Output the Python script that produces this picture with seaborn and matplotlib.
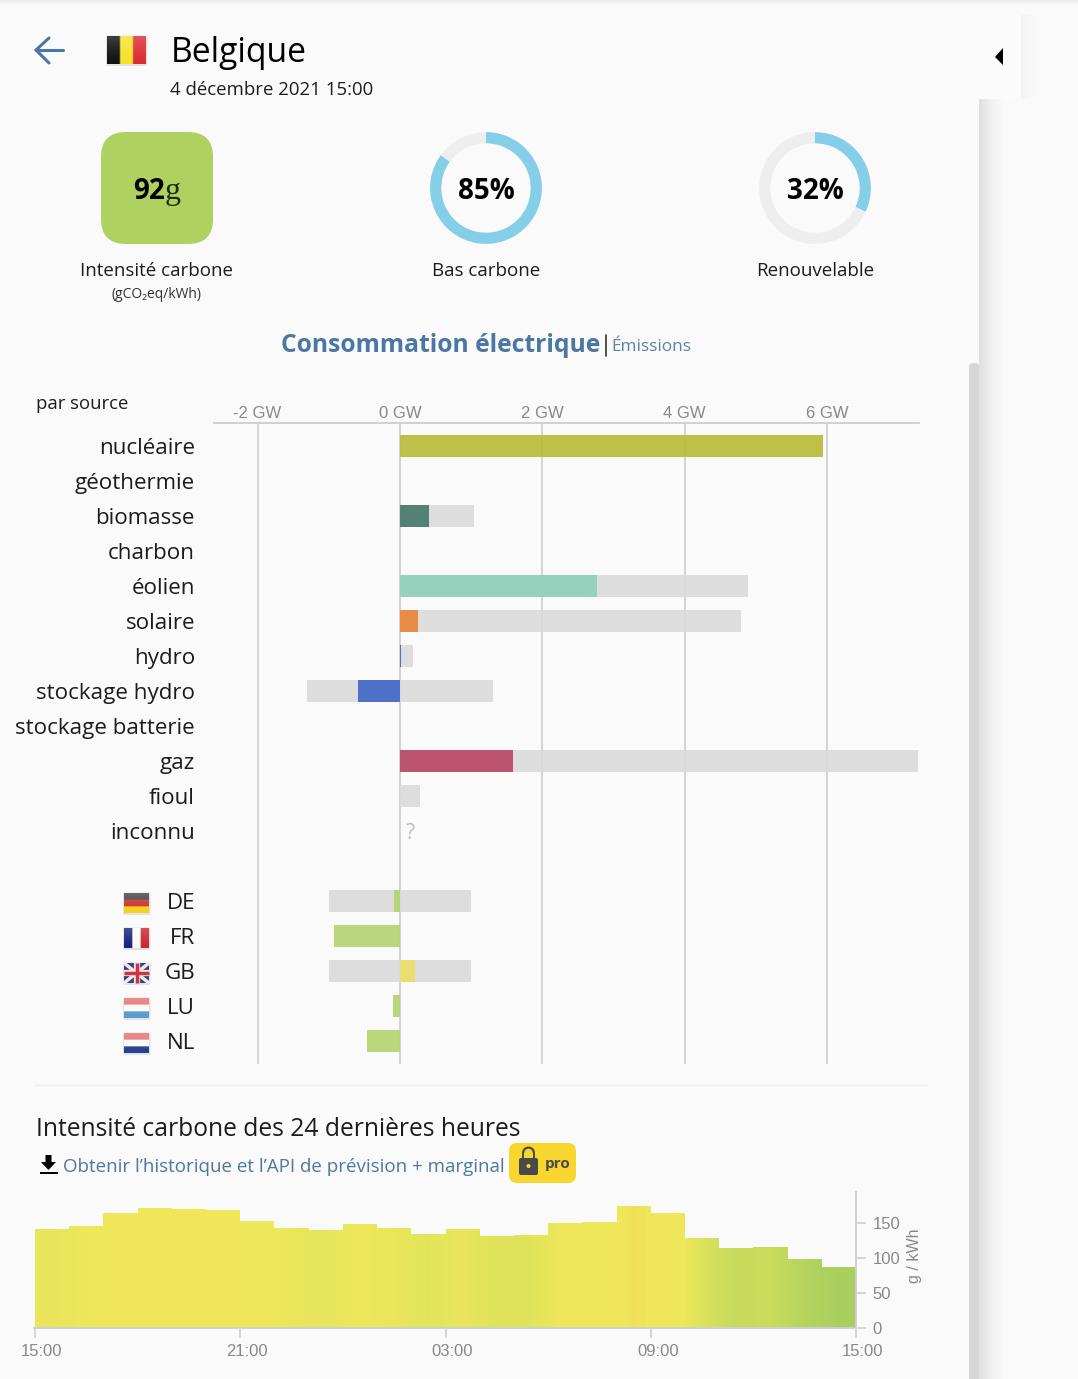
import numpy as np
import pandas as pd
import matplotlib
matplotlib.use("Agg")
import matplotlib.pyplot as plt
import seaborn as sns
from matplotlib.patches import FancyBboxPatch, Rectangle, Polygon, PathPatch, Circle, Wedge
from matplotlib.path import Path
from matplotlib.colors import LinearSegmentedColormap, Normalize, to_rgb

# ---------- data ----------
rows = ["nucléaire", "géothermie", "biomasse", "charbon", "éolien", "solaire", "hydro",
        "stockage hydro", "stockage batterie", "gaz", "fioul", "inconnu", " ",
        "DE", "FR", "GB", "LU", "NL"]
production = [5.94, 0, 0.41, 0, 2.77, 0.25, 0.02, -0.59, 0, 1.59, 0, 0, 0,
              -0.09, -0.93, 0.21, -0.10, -0.46]
capacity_pos = [0, 0, 1.04, 0, 4.89, 4.79, 0.18, 1.31, 0, 7.28, 0.28, 0, 0,
                1.0, 0, 1.0, 0, 0]
capacity_neg = [0, 0, 0, 0, 0, 0, 0, -1.31, 0, 0, 0, 0, 0,
                -1.0, 0, -1.0, 0, 0]
row_colors = ["#B8BD3A", "#FAFAFA", "#477A6B", "#FAFAFA", "#8FD1BB", "#E8853A", "#4269B2",
              "#4269C9", "#FAFAFA", "#B94868", "#FAFAFA", "#FAFAFA", "#FAFAFA",
              "#B5D471", "#B5D471", "#EDDE66", "#B5D471", "#B5D471"]
gw_ticks = [-2, 0, 2, 4, 6]
gw_labels = ["-2 GW", "0 GW", "2 GW", "4 GW", "6 GW"]

hours = ["15:00", "16:00", "17:00", "18:00", "19:00", "20:00", "21:00", "22:00",
         "23:00", "00:00", "01:00", "02:00", "03:00", "04:00", "05:00", "06:00",
         "07:00", "08:00", "09:00", "10:00", "11:00", "12:00", "13:00", "14:00"]
intensity = [141, 146, 165, 171, 170, 169, 153, 143, 140, 148, 143, 134,
             142, 131, 133, 150, 151, 175, 164, 129, 114, 116, 99, 87]
hour_ticks = [-0.5, 5.5, 11.5, 17.5, 23.5]
hour_labels = ["15:00", "21:00", "03:00", "09:00", "15:00"]
intensity_ticks = [0, 50, 100, 150]

low_carbon = [85, 15]
renewable = [32, 68]

# ---------- setup ----------
W, H = 1078, 1379
sns.set_theme(style="white")
plt.rcParams["font.family"] = ["Open Sans", "DejaVu Sans"]
BG = "#FAFAFA"
fig = plt.figure(figsize=(W / 100, H / 100), dpi=100, facecolor=BG)


def px_axes(x0, y0, x1, y1, **kw):
    return fig.add_axes([x0 / W, 1 - y1 / H, (x1 - x0) / W, (y1 - y0) / H], **kw)


bg = px_axes(0, 0, W, H, zorder=0)
bg.set_facecolor(BG)
bg.axis("off")

# window chrome
shade = LinearSegmentedColormap.from_list("s", ["#E0E0E0", "#F0F0F0", BG])
bg.imshow(np.linspace(0, 1, 40).reshape(1, -1), extent=(979, 1003, H, 99), cmap=shade, aspect="auto")
bg.imshow(np.linspace(0, 1, 8).reshape(-1, 1), extent=(0, W, 5, 0), cmap=LinearSegmentedColormap.from_list("t", ["#EBEBEB", BG]), aspect="auto", origin="upper")
bg.imshow(np.linspace(0, 1, 30).reshape(1, -1), extent=(1021, 1036, 99, 15), cmap=LinearSegmentedColormap.from_list("u", ["#F3F3F3", BG]), aspect="auto")
bg.add_patch(FancyBboxPatch((979, 15), 42, 84, boxstyle="round,pad=0,rounding_size=5", fc="#FBFBFB", ec="none"))
bg.add_patch(Rectangle((978, 15), 6, 84, fc="#FBFBFB", ec="none"))
bg.add_patch(Polygon([(1003, 48), (1003, 65), (995, 57)], fc="black", ec="none"))
bg.add_patch(FancyBboxPatch((969, 363), 10, 1030, boxstyle="round,pad=0,rounding_size=4", fc="#D6D6D6", ec="none"))

BLUE = "#4C77A5"
# back arrow
bg.plot([36, 63], [50, 50], color=BLUE, lw=2.2, solid_capstyle="round")
bg.plot([49, 36, 49], [38, 50, 63], color=BLUE, lw=2.2, solid_capstyle="round", solid_joinstyle="miter")


def flag_img(x0, y0, w, h, colors, vertical=False):
    """Striped flag with the soft edges and top sheen of the original raster icon."""
    bg.add_patch(FancyBboxPatch((x0 - 1, y0 - 0.5), w + 2.5, h + 2.5, boxstyle="round,pad=0,rounding_size=2", fc="#00000018", ec="none"))
    n = 12
    arr = np.zeros((n * 2, n * 2, 3))
    for i, c in enumerate(colors):
        a, b = i * 2 * n // len(colors), (i + 1) * 2 * n // len(colors)
        if vertical:
            arr[:, a:b] = to_rgb(c)
        else:
            arr[a:b, :] = to_rgb(c)
    sheen = np.linspace(0.28, 0.0, n * 2)[:, None, None] ** 1.3
    arr = arr + (1 - arr) * sheen
    bg.imshow(arr, extent=(x0, x0 + w, y0 + h, y0), aspect="auto", interpolation="bilinear", zorder=2)


flag_img(107, 36, 39, 28, ["#111111", "#F7E22B", "#DB2C33"], vertical=True)
flag_img(124, 893, 25, 20, ["#444444", "#C9342F", "#F6D21D"])
flag_img(124, 928, 25, 20, ["#1A237E", "#FAFAFA", "#C9282F"], vertical=True)
flag_img(124, 998, 25, 20, ["#E57373", "#FAFAFA", "#5A9BCB"])
flag_img(124, 1033, 25, 20, ["#E57373", "#FAFAFA", "#25408F"])
# union flag
bg.add_patch(FancyBboxPatch((123, 962.5), 27.5, 22.5, boxstyle="round,pad=0,rounding_size=2", fc="#00000018", ec="none"))
bg.add_patch(Rectangle((124, 963), 25, 20, fc="#3A3F80", ec="none", zorder=3))
for xs, ys, c, w_ in [([124, 149], [963, 983], "#F2E6EA", 2.5), ([124, 149], [983, 963], "#F2E6EA", 2.5),
                      ([124, 149], [973, 973], "#F2E6EA", 4.5), ([136.5, 136.5], [963, 983], "#F2E6EA", 4.5),
                      ([124, 149], [973, 973], "#D0333F", 2.5), ([136.5, 136.5], [963, 983], "#D0333F", 2.5)]:
    bg.plot(xs, ys, color=c, lw=w_, solid_capstyle="butt", zorder=3)
bg.set_xlim(0, W)
bg.set_ylim(H, 0)

INK = "#1C1C1C"
bg.text(171, 53, "Belgique", fontsize=24.3, color="black", va="center")
bg.text(170, 90, "4 décembre 2021 15:00", fontsize=13.4, color=INK, va="center")

# carbon square
bg.add_patch(FancyBboxPatch((101, 132), 112, 112, boxstyle="round,pad=0,rounding_size=25", fc="#AED15F", ec="none"))
bg.text(164.5, 199, "92", fontsize=20, fontweight="bold", color="black", ha="right", va="baseline")
bg.text(165, 199, "g", fontsize=23, family="Liberation Serif", color="#1C2A10", ha="left", va="baseline")
bg.text(157, 271, "Intensité carbone", fontsize=13.5, color=INK, ha="center", va="center")
bg.text(157, 295, "(gCO₂eq/kWh)", fontsize=10, color="#333333", ha="center", va="center")

# donuts
for cx, vals, lab, name in [(486, low_carbon, "85%", "Bas carbone"), (815, renewable, "32%", "Renouvelable")]:
    a = px_axes(cx - 57, 131, cx + 57, 245, zorder=1)
    a.pie(vals, colors=["#85CEE8", "#EEEEEE"], startangle=90, counterclock=False, radius=1.0,
          wedgeprops={"width": 0.2, "linewidth": 0})
    a.set_xlim(-1.02, 1.02)
    a.set_ylim(-1.02, 1.02)
    a.patch.set_visible(False)
    bg.text(cx, 199, lab, fontsize=20, fontweight="bold", color="black", ha="center", va="baseline")
    bg.text(cx, 271, name, fontsize=13.5, color=INK, ha="center", va="center")

bg.text(281, 345, "Consommation électrique", fontsize=17.7, fontweight="bold", color=BLUE, va="center")
bg.plot([605.5, 605.5], [335, 356], color="#333333", lw=1.2)
bg.text(611, 347, "Émissions", fontsize=12.4, color="#5A83AB", va="center")
bg.text(36, 404, "par source", fontsize=13.3, color=INK, va="center")

# ---------- main bars ----------
ax = px_axes(214, 423, 919, 1064, zorder=2)
ax.patch.set_visible(False)
df = pd.DataFrame({"source": rows, "prod": production, "pos": capacity_pos, "neg": capacity_neg})
GREY = "#DADADA"
for col in ["pos", "neg"]:
    sns.barplot(data=df, x=col, y="source", order=rows, orient="h", color=GREY,
                saturation=1, width=0.63, linewidth=0, alpha=0.88, ax=ax)
sns.barplot(data=df, x="prod", y="source", hue="source", order=rows, hue_order=rows, orient="h",
            palette=dict(zip(rows, row_colors)), saturation=1, width=0.63, dodge=False,
            legend=False, linewidth=0, alpha=0.92, ax=ax)
ax.set_xlim((214 - 400) / 71.2, (919 - 400) / 71.2)
ax.set_ylim((1064 - 446) / 35, (423 - 446) / 35)
ax.set_xlabel("")
ax.set_ylabel("")
ax.set_xticks(gw_ticks)
ax.set_xticklabels(gw_labels, family="Liberation Sans", fontsize=12, color="#888888")
ax.xaxis.tick_top()
ax.tick_params(axis="x", length=0, pad=1.5)
ax.tick_params(axis="y", length=0, pad=13.7, labelsize=16.1, labelcolor=INK)
ax.xaxis.grid(True, color="#CDCDCD", lw=1.2)
ax.yaxis.grid(False)
ax.set_axisbelow(True)
for s in ["left", "right", "bottom"]:
    ax.spines[s].set_visible(False)
ax.spines["top"].set_color("#D0D0D0")
ax.spines["top"].set_linewidth(1.4)
ax.text(0.14, rows.index("inconnu") + 0.08, "?", fontsize=15, color="#BBBBBB", ha="center", va="center")

bg.plot([35, 927], [1085, 1085], color="#EEEEEE", lw=1)
bg.text(36, 1129, "Intensité carbone des 24 dernières heures", fontsize=17.7, color=INK, va="center")
bg.text(63, 1167, "Obtenir l’historique et l’API de prévision + marginal", fontsize=13.5, color="#4F76A3", va="center")
# download icon
bg.add_patch(Polygon([(45.5, 1155), (51.5, 1155), (51.5, 1162), (56, 1162), (48.5, 1170), (41, 1162), (45.5, 1162)], fc="black", ec="none"))
bg.add_patch(Rectangle((40, 1172), 18, 2, fc="black", ec="none"))
# pro badge
bg.add_patch(FancyBboxPatch((509, 1143), 67, 40, boxstyle="round,pad=0,rounding_size=8", fc="#F9D62E", ec="none"))
bg.add_patch(FancyBboxPatch((519, 1158), 19, 17, boxstyle="round,pad=0,rounding_size=2", fc="#4A4A4A", ec="none"))
bg.add_patch(Wedge((528.5, 1153), 6.5, 180, 360, width=2.2, fc="#4A4A4A", ec="none"))
bg.add_patch(Rectangle((522, 1153), 2.2, 6, fc="#4A4A4A", ec="none"))
bg.add_patch(Rectangle((532.8, 1153), 2.2, 6, fc="#4A4A4A", ec="none"))
bg.add_patch(Circle((528.5, 1166), 2, fc="#F9D62E", ec="none"))
bg.text(558, 1164, "pro", fontsize=11, fontweight="bold", color="#4A4A4A", ha="center", va="center")

# ---------- history ----------
ax2 = px_axes(34, 1192, 856, 1328, zorder=2)
ax2.patch.set_visible(False)
hist = pd.DataFrame({"hour": hours, "g": intensity})
cmap = LinearSegmentedColormap.from_list(
    "ci", [(0.0, "#A6CE60"), (0.12, "#AED15F"), (0.35, "#C8DB5C"), (0.5, "#DEE35B"),
           (0.7, "#F0E85A"), (0.91, "#EFE65A"), (0.95, "#F0E058"), (1.0, "#F0DD58")])
norm = Normalize(80, 180)
sns.barplot(data=hist, x="hour", y="g", hue="hour", order=hours, hue_order=hours,
            palette={h: cmap(norm(v)) for h, v in zip(hours, intensity)},
            saturation=1, width=1.0, dodge=False, legend=False, linewidth=0, ax=ax2)
verts, codes = [], []
for p in ax2.patches:
    (x, y), w, h_ = p.get_xy(), p.get_width(), p.get_height()
    verts += [(x, y), (x + w, y), (x + w, y + h_), (x, y + h_), (x, y)]
    codes += [Path.MOVETO, Path.LINETO, Path.LINETO, Path.LINETO, Path.CLOSEPOLY]
clip = PathPatch(Path(verts, codes), transform=ax2.transData, fc="none", ec="none")
ax2.add_patch(clip)
im = ax2.imshow(np.array(intensity, dtype=float).reshape(1, -1), extent=(-0.5, 23.5, 0, 194),
                cmap=cmap, norm=norm, aspect="auto", interpolation="bilinear", zorder=1.5)
im.set_clip_path(clip)
ax2.set_xlim(-0.5 - 1 / 34.2, 23.5)
ax2.set_ylim(0, 136 / 0.7)
ax2.set_xlabel("")
ax2.set_ylabel("")
ax2.set_xticks(hour_ticks)
ax2.set_xticklabels([])
for t, lab in zip(hour_ticks, hour_labels):
    ax2.annotate(lab, xy=(t, 0), xycoords=("data", "axes fraction"), xytext=(5, -20), textcoords="offset points",
                 family="Liberation Sans", fontsize=12, color="#888888", ha="center", va="baseline",
                 annotation_clip=False)
ax2.yaxis.tick_right()
ax2.set_yticks(intensity_ticks)
ax2.set_yticklabels([str(v) for v in intensity_ticks], family="Liberation Sans", fontsize=12, color="#888888")
ax2.tick_params(axis="x", length=7, width=1.1, color="#CCCCCC", pad=6, bottom=True)
ax2.tick_params(axis="y", length=7, width=1.1, color="#CCCCCC", pad=5, right=True)
for s in ["left", "top"]:
    ax2.spines[s].set_visible(False)
for s in ["right", "bottom"]:
    ax2.spines[s].set_color("#D0D0D0")
    ax2.spines[s].set_linewidth(1.4)
bg.text(915, 1256, "g / kWh", family="Liberation Sans", fontsize=11.5, color="#888888", rotation=90, ha="center", va="center")

fig.savefig("out.png", dpi=100, facecolor=BG)
